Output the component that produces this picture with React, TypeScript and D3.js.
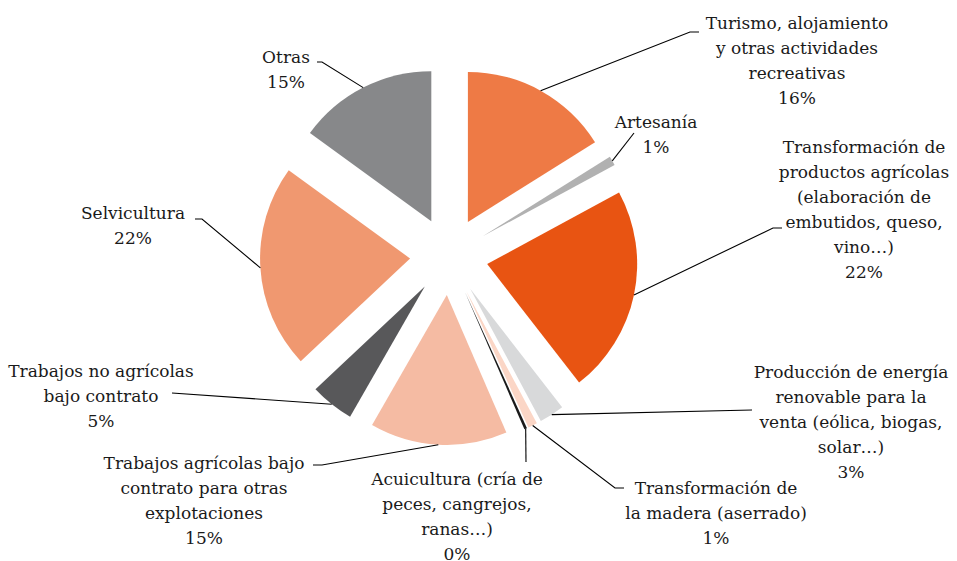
import React from "react";
import * as d3 from "d3";

// category labels, one entry per slice (line breaks as in the chart)
const categories = [
  ["Turismo, alojamiento", "y otras actividades", "recreativas"],
  ["Artesanía"],
  ["Transformación de", "productos agrícolas", "(elaboración de", "embutidos, queso,", "vino…)"],
  ["Producción de energía", "renovable para la", "venta (eólica, biogas,", "solar…)"],
  ["Transformación de", "la madera (aserrado)"],
  ["Acuicultura (cría de", "peces, cangrejos,", "ranas…)"],
  ["Trabajos agrícolas bajo", "contrato para otras", "explotaciones"],
  ["Trabajos no agrícolas", "bajo contrato"],
  ["Selvicultura"],
  ["Otras"],
];

// share of each activity, in %
const shares = [16.1, 1.0, 22.4, 2.7, 1.0, 0.3, 14.8, 4.7, 22.0, 15.0];

const colors = [
  "#EE7A45", "#B1B1B1", "#E85412", "#D8D9DA", "#FBD6C6",
  "#1A1A1A", "#F5BBA3", "#58585A", "#F09870", "#87888A",
];

// layout
const W = 957;
const H = 561;
const cx = 449;
const cy = 256;
const R = 150;
const explode = 39;
const lineH = 25;

const labelX = [797, 656, 864, 851, 716, 457, 204, 101, 133, 286];
const labelY = [29, 128, 153, 378, 494, 485, 469, 377, 219, 63];
const elbows = [
  [690, 32], [634, 133], [773, 228], [752, 410], [615, 488],
  [526, 462], [322, 465], [172, 393], [202, 219], [322, 62],
];
const stubs = [9, 0, 9, 0, 9, 0, -9, 0, -7, -5];

export default function App() {
  const arcs = d3.pie<number>().sort(null).value((d) => d)(shares);
  const arc = d3.arc<d3.PieArcDatum<number>>().innerRadius(0).outerRadius(R);

  return (
    <svg
      width={W}
      height={H}
      style={{ position: "absolute", left: 0, top: 0 }}
      fontFamily="DejaVu Serif"
      fontSize={17}
    >
      <rect width={W} height={H} fill="#fff" />
      {arcs.map((a, i) => {
        const mid = (a.startAngle + a.endAngle) / 2;
        const dx = explode * Math.sin(mid);
        const dy = -explode * Math.cos(mid);
        return (
          <path
            key={"s" + i}
            d={arc(a) || ""}
            transform={`translate(${cx + dx},${cy + dy})`}
            fill={colors[i]}
          />
        );
      })}
      {arcs.map((a, i) => {
        const mid = (a.startAngle + a.endAngle) / 2;
        const ax = cx + (R + explode) * Math.sin(mid);
        const ay = cy - (R + explode) * Math.cos(mid);
        const [ex, ey] = elbows[i];
        const pts = [[ax, ay], [ex, ey]];
        if (stubs[i]) pts.push([ex + stubs[i], ey]);
        return (
          <polyline
            key={"l" + i}
            points={pts.map((p) => p.join(",")).join(" ")}
            fill="none"
            stroke="#000"
            strokeWidth={1.1}
          />
        );
      })}
      {categories.map((lines, i) => {
        const all = [...lines, `${Math.round(shares[i])}%`];
        return (
          <text key={"t" + i} textAnchor="middle" fill="#1a1a1a">
            {all.map((ln, k) => (
              <tspan key={k} x={labelX[i]} y={labelY[i] + k * lineH}>
                {ln}
              </tspan>
            ))}
          </text>
        );
      })}
    </svg>
  );
}
